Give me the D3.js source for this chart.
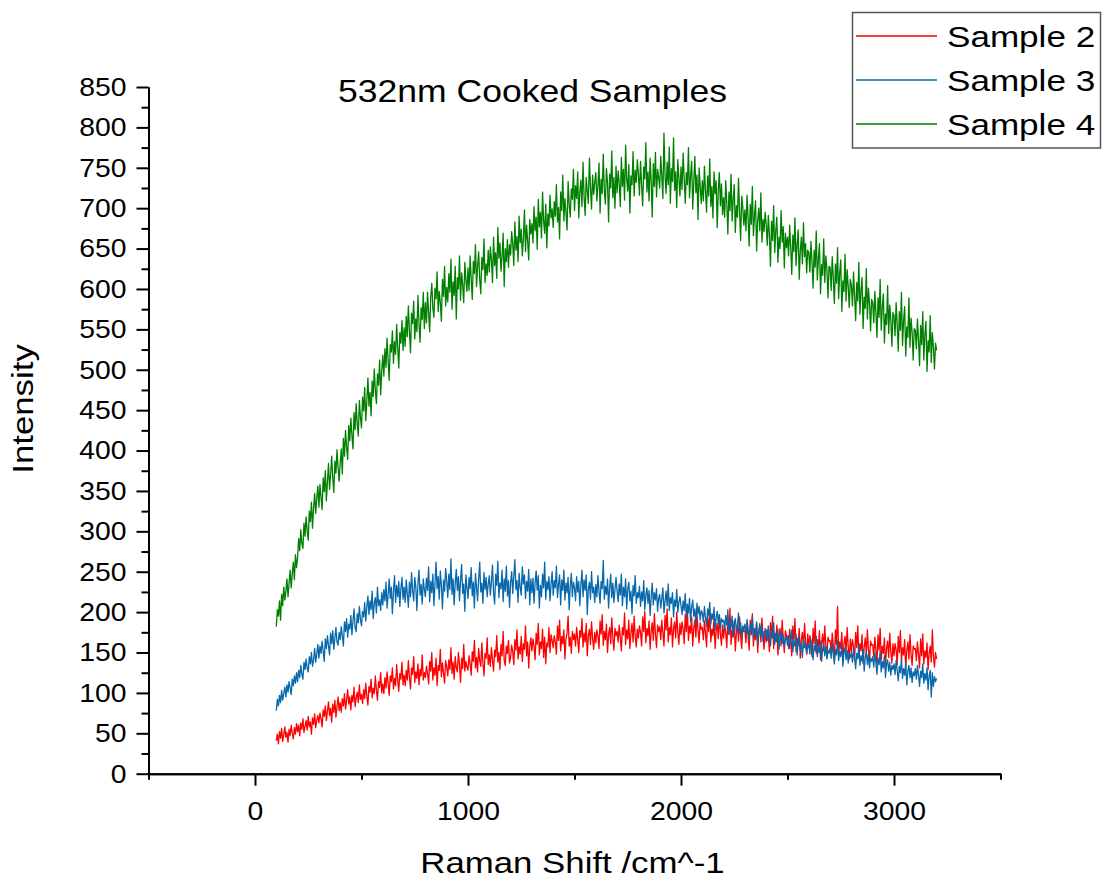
<!DOCTYPE html>
<html>
<head>
<meta charset="utf-8">
<script src="https://cdn.jsdelivr.net/npm/d3@7/dist/d3.min.js"></script>
<style>
  body { margin: 0; background: #fff; }
  svg { display: block; }
  text { font-family: "Liberation Sans", Arial, sans-serif; fill: #000; }
</style>
</head>
<body>
<svg id="chart" width="1102" height="881"></svg>
<script>
// Raman spectra, 532 nm excitation, sampled every 5 cm^-1 from 100 to 3200 cm^-1
const shiftStart = 100;
const shiftStep = 5;

// one row per 100 cm^-1
const sample2 = [
  41, 49, 37, 52, 44, 56, 40, 48, 58, 45, 51, 39, 55, 47, 60, 50, 43, 57, 49, 62,
  52, 60, 47, 63, 55, 68, 51, 59, 66, 54, 71, 58, 64, 49, 69, 61, 74, 57, 66, 72,
  63, 75, 68, 58, 79, 71, 84, 66, 77, 89, 72, 81, 64, 86, 76, 91, 70, 83, 95, 78,
  88, 76, 93, 84, 99, 80, 91, 104, 86, 95, 79, 97, 89, 107, 83, 94, 101, 88, 110, 92,
  98, 87, 104, 93, 112, 96, 85, 108, 101, 117, 94, 106, 99, 121, 103, 91, 114, 107, 125, 100,
  111, 99, 119, 106, 126, 112, 97, 121, 114, 131, 105, 118, 109, 135, 115, 102, 124, 117, 138, 110,
  122, 109, 128, 116, 140, 119, 105, 131, 123, 145, 113, 126, 118, 136, 110, 129, 121, 147, 116, 125,
  119, 133, 124, 111, 139, 127, 150, 116, 131, 122, 143, 109, 134, 128, 154, 120, 137, 125, 112, 140,
  133, 121, 141, 129, 156, 124, 138, 117, 145, 131, 126, 150, 135, 113, 143, 130, 160, 127, 139, 132,
  128, 146, 136, 122, 151, 139, 165, 131, 144, 126, 155, 140, 133, 162, 137, 121, 149, 143, 168, 135,
  147, 133, 156, 141, 127, 153, 145, 171, 138, 150, 129, 160, 146, 176, 140, 134, 158, 149, 165, 137,
  144, 159, 151, 135, 166, 153, 178, 142, 157, 148, 170, 139, 161, 154, 183, 146, 163, 131, 158, 168,
  152, 167, 158, 141, 174, 160, 186, 147, 163, 155, 179, 144, 169, 136, 162, 157, 181, 150, 172, 165,
  156, 171, 163, 148, 183, 165, 190, 152, 170, 161, 178, 142, 167, 174, 195, 158, 169, 149, 176, 166,
  173, 158, 181, 166, 150, 177, 169, 192, 157, 174, 163, 186, 146, 171, 179, 160, 188, 167, 154, 175,
  162, 178, 170, 155, 189, 173, 197, 159, 176, 166, 185, 150, 172, 181, 161, 193, 168, 153, 180, 171,
  176, 163, 184, 169, 152, 181, 172, 199, 160, 178, 167, 190, 155, 174, 186, 163, 195, 170, 157, 179,
  168, 183, 175, 158, 194, 176, 201, 162, 180, 171, 189, 154, 177, 187, 165, 198, 173, 156, 184, 176,
  182, 166, 190, 174, 158, 196, 178, 204, 163, 181, 172, 193, 157, 179, 188, 168, 200, 175, 160, 186,
  172, 188, 179, 161, 197, 176, 203, 165, 183, 174, 194, 158, 180, 190, 169, 199, 177, 162, 187, 179,
  181, 166, 189, 174, 157, 195, 176, 200, 163, 179, 171, 192, 155, 177, 186, 167, 197, 173, 159, 184,
  168, 183, 175, 156, 191, 172, 205, 160, 178, 169, 189, 152, 174, 185, 164, 194, 170, 155, 181, 176,
  177, 162, 186, 171, 153, 190, 172, 198, 158, 175, 166, 187, 150, 173, 182, 163, 193, 169, 154, 180,
  163, 178, 170, 151, 187, 168, 195, 155, 174, 164, 184, 147, 170, 180, 158, 190, 166, 150, 177, 171,
  170, 155, 179, 165, 146, 183, 164, 192, 151, 168, 159, 180, 143, 166, 175, 156, 186, 162, 148, 173,
  156, 171, 163, 145, 180, 161, 189, 149, 166, 157, 177, 141, 162, 173, 152, 183, 159, 144, 169, 164,
  165, 150, 174, 159, 141, 178, 160, 207, 146, 163, 155, 175, 139, 161, 170, 151, 181, 157, 142, 167,
  151, 166, 158, 140, 175, 156, 183, 144, 161, 152, 172, 136, 157, 168, 148, 178, 154, 139, 164, 159,
  160, 145, 169, 154, 136, 172, 153, 180, 141, 158, 149, 168, 133, 155, 164, 144, 174, 151, 137, 161,
  146, 161, 153, 135, 170, 150, 177, 139, 156, 147, 166, 131, 152, 163, 142, 172, 148, 134, 158, 154,
  155, 140, 163, 148, 131, 167, 146, 173, 136, 152, 144, 162, 129, 149, 158, 138, 178, 145, 132, 150,
  142
];

const sample3 = [
  78, 92, 84, 97, 88, 103, 91, 99, 107, 95, 110, 101, 114, 106, 98, 117, 109, 121, 112, 125,
  114, 128, 119, 134, 123, 117, 138, 129, 142, 131, 126, 145, 136, 150, 133, 141, 155, 138, 148, 160,
  143, 158, 149, 164, 152, 139, 167, 155, 171, 158, 147, 174, 161, 177, 154, 168, 181, 163, 159, 175,
  166, 182, 171, 158, 188, 176, 192, 169, 185, 179, 196, 172, 189, 204, 181, 176, 198, 187, 207, 191,
  183, 201, 194, 212, 189, 206, 220, 197, 214, 203, 226, 192, 211, 218, 199, 231, 208, 215, 202, 224,
  209, 228, 214, 237, 205, 222, 241, 217, 231, 198, 226, 245, 212, 233, 219, 238, 207, 229, 243, 216,
  231, 212, 240, 223, 206, 237, 219, 249, 226, 214, 243, 231, 202, 236, 252, 221, 234, 210, 241, 228,
  219, 242, 227, 256, 213, 238, 224, 247, 208, 235, 262, 229, 244, 216, 251, 233, 204, 240, 226, 254,
  239, 218, 247, 228, 266, 222, 241, 209, 236, 253, 227, 244, 214, 239, 259, 223, 235, 201, 246, 230,
  217, 243, 229, 255, 220, 237, 205, 248, 231, 214, 240, 262, 225, 236, 211, 249, 228, 243, 219, 235,
  245, 221, 238, 258, 224, 210, 247, 233, 263, 218, 236, 229, 252, 213, 241, 226, 257, 220, 239, 206,
  237, 250, 223, 244, 265, 228, 239, 212, 248, 231, 221, 256, 235, 246, 217, 238, 226, 253, 209, 241,
  224, 242, 211, 236, 251, 227, 245, 205, 233, 219, 247, 230, 262, 216, 238, 228, 244, 214, 235, 250,
  221, 239, 230, 257, 218, 234, 246, 209, 240, 227, 252, 215, 236, 224, 243, 203, 232, 248, 219, 237,
  230, 214, 244, 225, 238, 208, 233, 252, 219, 240, 227, 246, 197, 229, 237, 216, 250, 224, 231, 212,
  234, 219, 245, 226, 211, 238, 229, 264, 216, 232, 222, 241, 205, 230, 247, 218, 236, 212, 228, 243,
  226, 213, 235, 221, 247, 208, 231, 219, 241, 204, 229, 237, 214, 226, 198, 233, 220, 245, 211, 224,
  218, 232, 207, 225, 214, 239, 203, 221, 230, 211, 227, 196, 219, 236, 209, 224, 215, 229, 201, 217,
  222, 205, 217, 230, 199, 213, 226, 208, 235, 202, 218, 211, 224, 194, 215, 207, 228, 200, 212, 219,
  208, 197, 214, 202, 223, 193, 210, 199, 217, 188, 206, 215, 195, 204, 184, 211, 198, 207, 190, 202,
  199, 188, 207, 193, 182, 204, 196, 212, 185, 198, 191, 206, 178, 194, 201, 186, 197, 180, 192, 188,
  190, 178, 196, 184, 203, 173, 188, 181, 195, 170, 186, 192, 176, 184, 199, 174, 187, 169, 183, 178,
  185, 172, 191, 179, 166, 184, 176, 194, 168, 180, 172, 188, 161, 177, 186, 170, 182, 164, 176, 173,
  178, 165, 183, 170, 158, 176, 168, 187, 160, 173, 163, 179, 154, 169, 175, 161, 172, 158, 166, 170,
  159, 171, 155, 166, 178, 151, 164, 158, 173, 147, 162, 169, 153, 160, 144, 167, 156, 162, 149, 158,
  161, 148, 166, 153, 141, 159, 152, 170, 145, 157, 150, 164, 139, 155, 160, 146, 158, 142, 153, 149,
  156, 143, 161, 148, 136, 154, 147, 165, 140, 151, 145, 159, 133, 150, 156, 141, 153, 137, 149, 144,
  150, 138, 155, 143, 130, 149, 142, 160, 134, 146, 139, 154, 127, 144, 151, 135, 148, 131, 143, 139,
  145, 132, 150, 137, 123, 143, 135, 152, 126, 139, 131, 146, 119, 136, 141, 127, 138, 122, 134, 129,
  136, 123, 140, 128, 115, 133, 125, 142, 118, 130, 122, 137, 110, 127, 134, 119, 131, 113, 126, 121,
  130, 117, 134, 122, 108, 127, 119, 136, 112, 124, 116, 131, 104, 121, 128, 95, 125, 108, 120, 114,
  118
];

const sample4 = [
  182, 203, 195, 214, 190, 222, 208, 231, 215, 226, 241, 219, 236, 252, 230, 247, 262, 240, 271, 255,
  268, 291, 276, 302, 285, 279, 310, 294, 318, 301, 289, 325, 312, 336, 304, 329, 347, 322, 341, 356,
  330, 358, 342, 327, 366, 349, 375, 338, 361, 384, 352, 370, 393, 366, 348, 387, 372, 401, 379, 362,
  384, 402, 371, 415, 393, 425, 404, 389, 431, 412, 440, 419, 402, 447, 426, 458, 433, 418, 462, 441,
  428, 466, 449, 478, 437, 461, 490, 455, 472, 443, 486, 467, 501, 474, 458, 495, 481, 512, 469, 498,
  518, 492, 526, 503, 539, 511, 487, 531, 522, 548, 508, 535, 519, 556, 527, 502, 546, 533, 561, 524,
  552, 529, 566, 541, 579, 548, 521, 570, 557, 585, 538, 563, 547, 592, 555, 534, 577, 562, 596, 551,
  583, 558, 596, 571, 547, 590, 607, 576, 565, 601, 588, 621, 572, 597, 583, 560, 612, 591, 628, 579,
  602, 584, 619, 596, 637, 575, 609, 592, 628, 563, 614, 600, 641, 586, 620, 605, 583, 633, 611, 597,
  626, 598, 641, 613, 587, 634, 619, 655, 603, 628, 646, 612, 594, 639, 624, 662, 608, 631, 617, 648,
  621, 652, 637, 608, 664, 629, 645, 613, 676, 638, 657, 622, 641, 669, 603, 650, 634, 661, 627, 655,
  642, 671, 656, 629, 683, 648, 665, 634, 690, 657, 674, 641, 662, 698, 646, 679, 660, 636, 686, 668,
  681, 657, 702, 672, 689, 649, 711, 677, 695, 663, 720, 684, 669, 705, 651, 693, 678, 716, 688, 699,
  676, 708, 690, 729, 683, 701, 662, 720, 697, 741, 684, 712, 695, 673, 733, 705, 689, 724, 711, 748,
  697, 728, 712, 745, 688, 719, 735, 702, 757, 714, 691, 738, 721, 706, 762, 726, 699, 741, 717, 732,
  744, 709, 728, 756, 694, 736, 718, 767, 722, 705, 749, 731, 683, 742, 725, 771, 713, 738, 700, 752,
  719, 746, 731, 702, 763, 727, 748, 710, 778, 736, 721, 754, 694, 740, 729, 770, 715, 747, 732, 760,
  742, 716, 758, 729, 703, 751, 736, 781, 720, 745, 709, 762, 733, 689, 755, 727, 769, 714, 748, 738,
  725, 764, 739, 712, 793, 741, 718, 757, 729, 776, 706, 749, 733, 787, 722, 745, 701, 760, 738, 715,
  751, 723, 768, 737, 706, 744, 729, 775, 713, 740, 758, 699, 732, 764, 719, 741, 686, 750, 727, 706,
  734, 709, 752, 721, 695, 740, 715, 761, 702, 727, 688, 745, 718, 734, 676, 722, 744, 703, 730, 692,
  713, 689, 734, 706, 668, 720, 697, 742, 684, 711, 729, 670, 703, 689, 737, 695, 660, 715, 701, 679,
  698, 672, 716, 688, 653, 705, 680, 727, 666, 691, 709, 647, 684, 700, 672, 719, 658, 686, 671, 695,
  680, 654, 691, 667, 628, 684, 660, 703, 645, 672, 689, 633, 664, 650, 697, 658, 677, 626, 669, 651,
  664, 641, 679, 652, 618, 667, 646, 688, 629, 655, 673, 612, 647, 664, 631, 682, 640, 656, 620, 648,
  645, 621, 659, 634, 601, 648, 627, 672, 611, 637, 656, 594, 630, 617, 662, 608, 641, 625, 589, 628,
  627, 598, 640, 613, 582, 631, 607, 651, 588, 619, 636, 572, 610, 597, 643, 585, 624, 603, 577, 612,
  604, 579, 621, 592, 561, 608, 585, 633, 569, 598, 614, 551, 590, 576, 625, 563, 601, 582, 548, 587,
  583, 558, 597, 571, 540, 589, 565, 612, 549, 577, 594, 533, 569, 556, 604, 545, 580, 562, 529, 571,
  567, 542, 583, 556, 523, 572, 549, 596, 530, 561, 578, 517, 553, 540, 589, 528, 564, 547, 512, 551,
  549, 526, 563, 538, 505, 555, 531, 572, 512, 544, 560, 498, 536, 522, 567, 509, 546, 528, 501, 533,
  524
];

const seriesNames = ["Sample 2", "Sample 3", "Sample 4"];
const seriesColors = ["#ff0000", "#0868ac", "#008000"];
const seriesValues = [sample2, sample3, sample4];

const xMajorTicks = [0, 1000, 2000, 3000];
const xMinorTicks = [-500, 500, 1500, 2500, 3500];
const yMajorTicks = [0, 50, 100, 150, 200, 250, 300, 350, 400, 450, 500, 550, 600, 650, 700, 750, 800, 850];
const yMinorTicks = [25, 75, 125, 175, 225, 275, 325, 375, 425, 475, 525, 575, 625, 675, 725, 775, 825];

const chartTitle = "532nm Cooked Samples";
const xTitle = "Raman Shift /cm^-1";
const yTitle = "Intensity";

const svg = d3.select("#chart");

const x = d3.scaleLinear().domain([-500, 3500]).range([148.5, 1000.5]);
const y = d3.scaleLinear().domain([0, 850]).range([773.7, 87]);

// spectra
const line = d3.line()
  .x((d, i) => x(shiftStart + i * shiftStep))
  .y(d => y(d));

const plot = svg.append("g");
seriesValues.forEach((vals, k) => {
  plot.append("path")
    .datum(vals)
    .attr("fill", "none")
    .attr("stroke", seriesColors[k])
    .attr("stroke-width", 1.3)
    .attr("stroke-linejoin", "round")
    .attr("d", line);
});

// axes
function styleAxis(g) {
  g.select(".domain").attr("stroke", "#000").attr("stroke-width", 2);
  g.selectAll(".tick line").attr("stroke", "#000").attr("stroke-width", 2);
}

// labels in this chart are set slightly wide
const tickWide = 1.09;

const xAxisY = 773.7;
svg.append("g")
  .attr("transform", `translate(0,${xAxisY})`)
  .call(d3.axisBottom(x).tickValues(xMinorTicks).tickSize(6).tickSizeOuter(0).tickFormat(""))
  .call(styleAxis);
const xAx = svg.append("g")
  .attr("transform", `translate(0,${xAxisY})`)
  .call(d3.axisBottom(x).tickValues(xMajorTicks).tickSize(12).tickSizeOuter(0).tickPadding(15.5).tickFormat(d3.format("d")))
  .call(styleAxis);
xAx.selectAll(".tick text")
  .attr("font-size", 26).attr("font-family", "Liberation Sans, Arial, sans-serif").attr("fill", "#000")
  .attr("transform", `scale(${tickWide},1)`);

svg.append("g")
  .attr("transform", "translate(148.5,0)")
  .call(d3.axisLeft(y).tickValues(yMinorTicks).tickSize(7).tickSizeOuter(0).tickFormat(""))
  .call(styleAxis);
const yAx = svg.append("g")
  .attr("transform", "translate(148.5,0)")
  .call(d3.axisLeft(y).tickValues(yMajorTicks).tickSize(12).tickSizeOuter(0).tickPadding(10).tickFormat(d3.format("d")))
  .call(styleAxis);
yAx.selectAll(".tick text")
  .attr("font-size", 26).attr("font-family", "Liberation Sans, Arial, sans-serif").attr("fill", "#000")
  .attr("x", 0)
  .attr("transform", `translate(-22,0) scale(${tickWide},1)`);

// titles
svg.append("text")
  .attr("transform", "translate(532.5,102) scale(1.11,1)")
  .attr("text-anchor", "middle")
  .attr("font-size", 32)
  .text(chartTitle);

svg.append("text")
  .attr("transform", "translate(572.5,873) scale(1.16,1)")
  .attr("text-anchor", "middle")
  .attr("font-size", 30)
  .text(xTitle);

svg.append("text")
  .attr("transform", "translate(33,409) rotate(-90) scale(1.16,1)")
  .attr("text-anchor", "middle")
  .attr("font-size", 30)
  .text(yTitle);

// legend
const legend = svg.append("g");
legend.append("rect")
  .attr("x", 852.5).attr("y", 12.5).attr("width", 248).attr("height", 135.5)
  .attr("fill", "#fff").attr("stroke", "#555").attr("stroke-width", 1.5);
seriesNames.forEach((name, k) => {
  const ly = 36 + k * 44;
  legend.append("line")
    .attr("x1", 856).attr("x2", 937).attr("y1", ly).attr("y2", ly)
    .attr("stroke", seriesColors[k]).attr("stroke-width", 1.5);
  legend.append("text")
    .attr("transform", `translate(947,${ly + 11}) scale(1.17,1)`)
    .attr("font-size", 30)
    .text(name);
});
</script>
</body>
</html>
